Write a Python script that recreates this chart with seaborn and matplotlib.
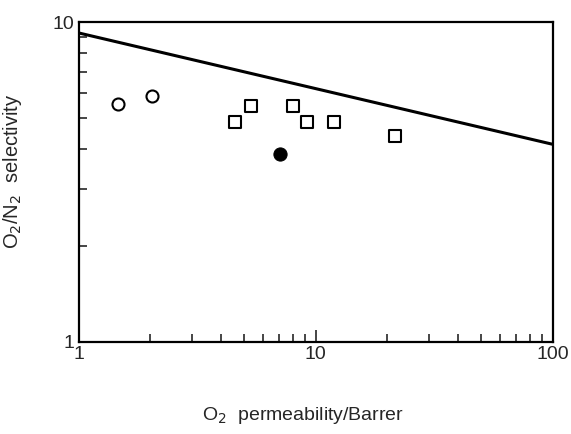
import numpy as np
import pandas as pd
import matplotlib
matplotlib.use("Agg")
import matplotlib.pyplot as plt
from matplotlib.ticker import NullFormatter
import seaborn as sns

# upper bound line
bound_perm = [1, 100]
bound_sel = [9.25, 4.15]

# open circles
circle_perm = [1.46, 2.03]
circle_sel = [5.54, 5.87]

# open squares
square_perm = [4.55, 5.32, 8.0, 9.17, 11.9, 21.5]
square_sel = [4.87, 5.47, 5.47, 4.87, 4.87, 4.4]

# filled circle
filled_perm = [7.05]
filled_sel = [3.87]

sns.set_style("ticks")
plt.rcParams["font.family"] = ["Liberation Sans", "DejaVu Sans"]

fig = plt.figure(figsize=(5.71, 4.34), dpi=100)
ax = fig.add_axes([0.138, 0.212, 0.830, 0.737])

bound = pd.DataFrame({"perm": bound_perm, "sel": bound_sel})
sns.lineplot(data=bound, x="perm", y="sel", color="black", linewidth=2.2, ax=ax)

circles = pd.DataFrame({"perm": circle_perm, "sel": circle_sel})
sns.scatterplot(data=circles, x="perm", y="sel", marker="o", s=75,
                facecolor="white", edgecolor="black", linewidth=1.5, ax=ax, zorder=3)

squares = pd.DataFrame({"perm": square_perm, "sel": square_sel})
sns.scatterplot(data=squares, x="perm", y="sel", marker="s", s=85,
                facecolor="white", edgecolor="black", linewidth=1.5, ax=ax, zorder=3)

filled = pd.DataFrame({"perm": filled_perm, "sel": filled_sel})
sns.scatterplot(data=filled, x="perm", y="sel", marker="o", s=90,
                color="black", edgecolor="black", ax=ax, zorder=3)

ax.set_xscale("log")
ax.set_yscale("log")
ax.set_xlim(1, 100)
ax.set_ylim(1, 10)
ax.set_xticks([1, 10, 100])
ax.set_xticklabels(["1", "10", "100"])
ax.set_yticks([1, 10])
ax.set_yticklabels(["1", "10"])
ax.xaxis.set_minor_formatter(NullFormatter())
ax.yaxis.set_minor_formatter(NullFormatter())

ax.tick_params(which="major", direction="in", length=9, width=1.2, labelsize=14,
               top=False, right=False, pad=3)
ax.tick_params(which="minor", direction="in", length=6, width=1.2,
               top=False, right=False)

for sp in ax.spines.values():
    sp.set_color("black")
    sp.set_linewidth(1.6)

ax.set_xlabel("O$_2$  permeability/Barrer", fontsize=14)
ax.set_ylabel("O$_2$/N$_2$  selectivity", fontsize=14.5)
ax.xaxis.set_label_coords(0.473, -0.198)
ax.yaxis.set_label_coords(-0.115, 0.535)

fig.savefig("out.png", dpi=100)
